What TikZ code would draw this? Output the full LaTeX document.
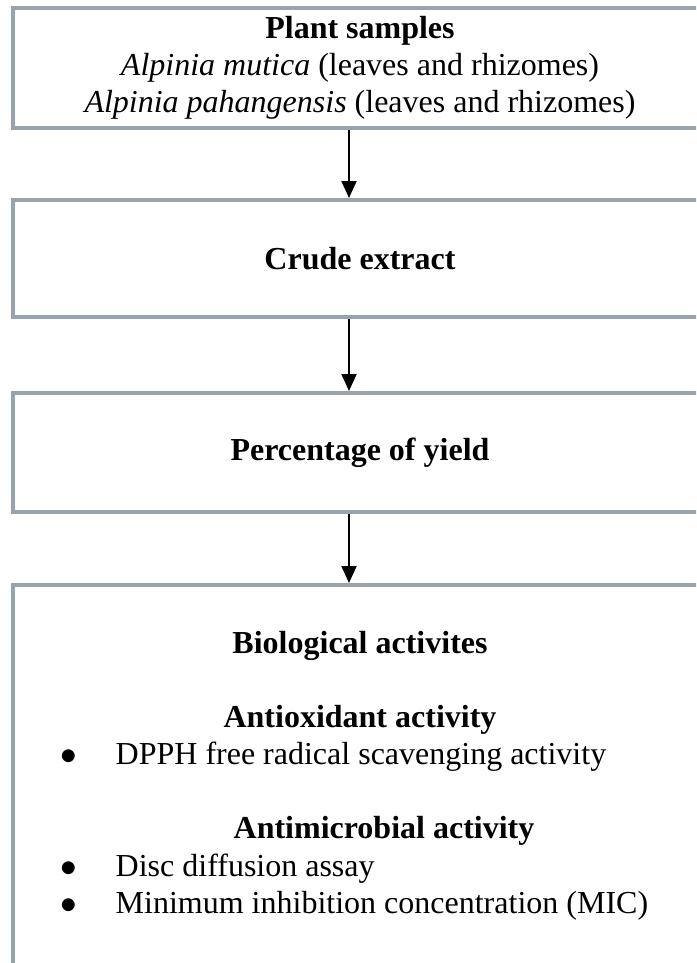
\documentclass[tikz,border=0pt]{standalone}
\usepackage{fontspec}
\setmainfont{Liberation Serif}
\usetikzlibrary{arrows.meta,positioning}
\definecolor{boxgray}{RGB}{152,163,174}

\begin{document}
\begin{tikzpicture}[x=0.75pt,y=-0.75pt,
    every node/.style={font=\fontsize{24}{27.6}\selectfont},
    box/.style={draw=boxgray, line width=3pt, minimum width=520.5pt, align=center, inner sep=0pt},
    arr/.style={-{Triangle[length=12.75pt,width=11.25pt]}, line width=1.5pt, black},
    head/.style={anchor=base, font=\fontsize{24}{27.6}\selectfont\bfseries},
    item/.style={anchor=base west},
    dot/.style={anchor=base}
  ]
    \useasboundingbox (0,0) rectangle (696,963);
    \clip (0,0) rectangle (696,963);
    % boxes
    \node[box, minimum height=90pt] (plant) at (360,68)
      {\textbf{Plant samples}\\\textit{Alpinia mutica} (leaves and rhizomes)\\\textit{Alpinia pahangensis} (leaves and rhizomes)};
    \node[box, minimum height=87.75pt] (crude) at (360,258.5) {\textbf{Crude extract}};
    \node[box, minimum height=89.25pt] (yield) at (360,452.5) {\textbf{Percentage of yield}};
    \node[box, minimum height=310.5pt] (bio) at (360,792) {};
    % text of the last box
    \node[head] (biot) at (360,653) {Biological activites};
    \node[head] (antiox) at (360,727) {Antioxidant activity};
    \node[dot] (b1) at (69,764) {$\bullet$};
    \node[item] (dpph) at (111,764) {DPPH free radical scavenging activity};
    \node[head] (antimic) at (384,838) {Antimicrobial activity};
    \node[dot] (b2) at (69,876) {$\bullet$};
    \node[item] (disc) at (111,876) {Disc diffusion assay};
    \node[dot] (b3) at (69,913) {$\bullet$};
    \node[item] (mic) at (111,913) {Minimum inhibition concentration (MIC)};
    % arrows
    \coordinate (ax) at (349,0);
    \draw[arr] (plant.south -| ax) -- (crude.north -| ax);
    \draw[arr] (crude.south -| ax) -- (yield.north -| ax);
    \draw[arr] (yield.south -| ax) -- (bio.north -| ax);
  \end{tikzpicture}
\end{document}
